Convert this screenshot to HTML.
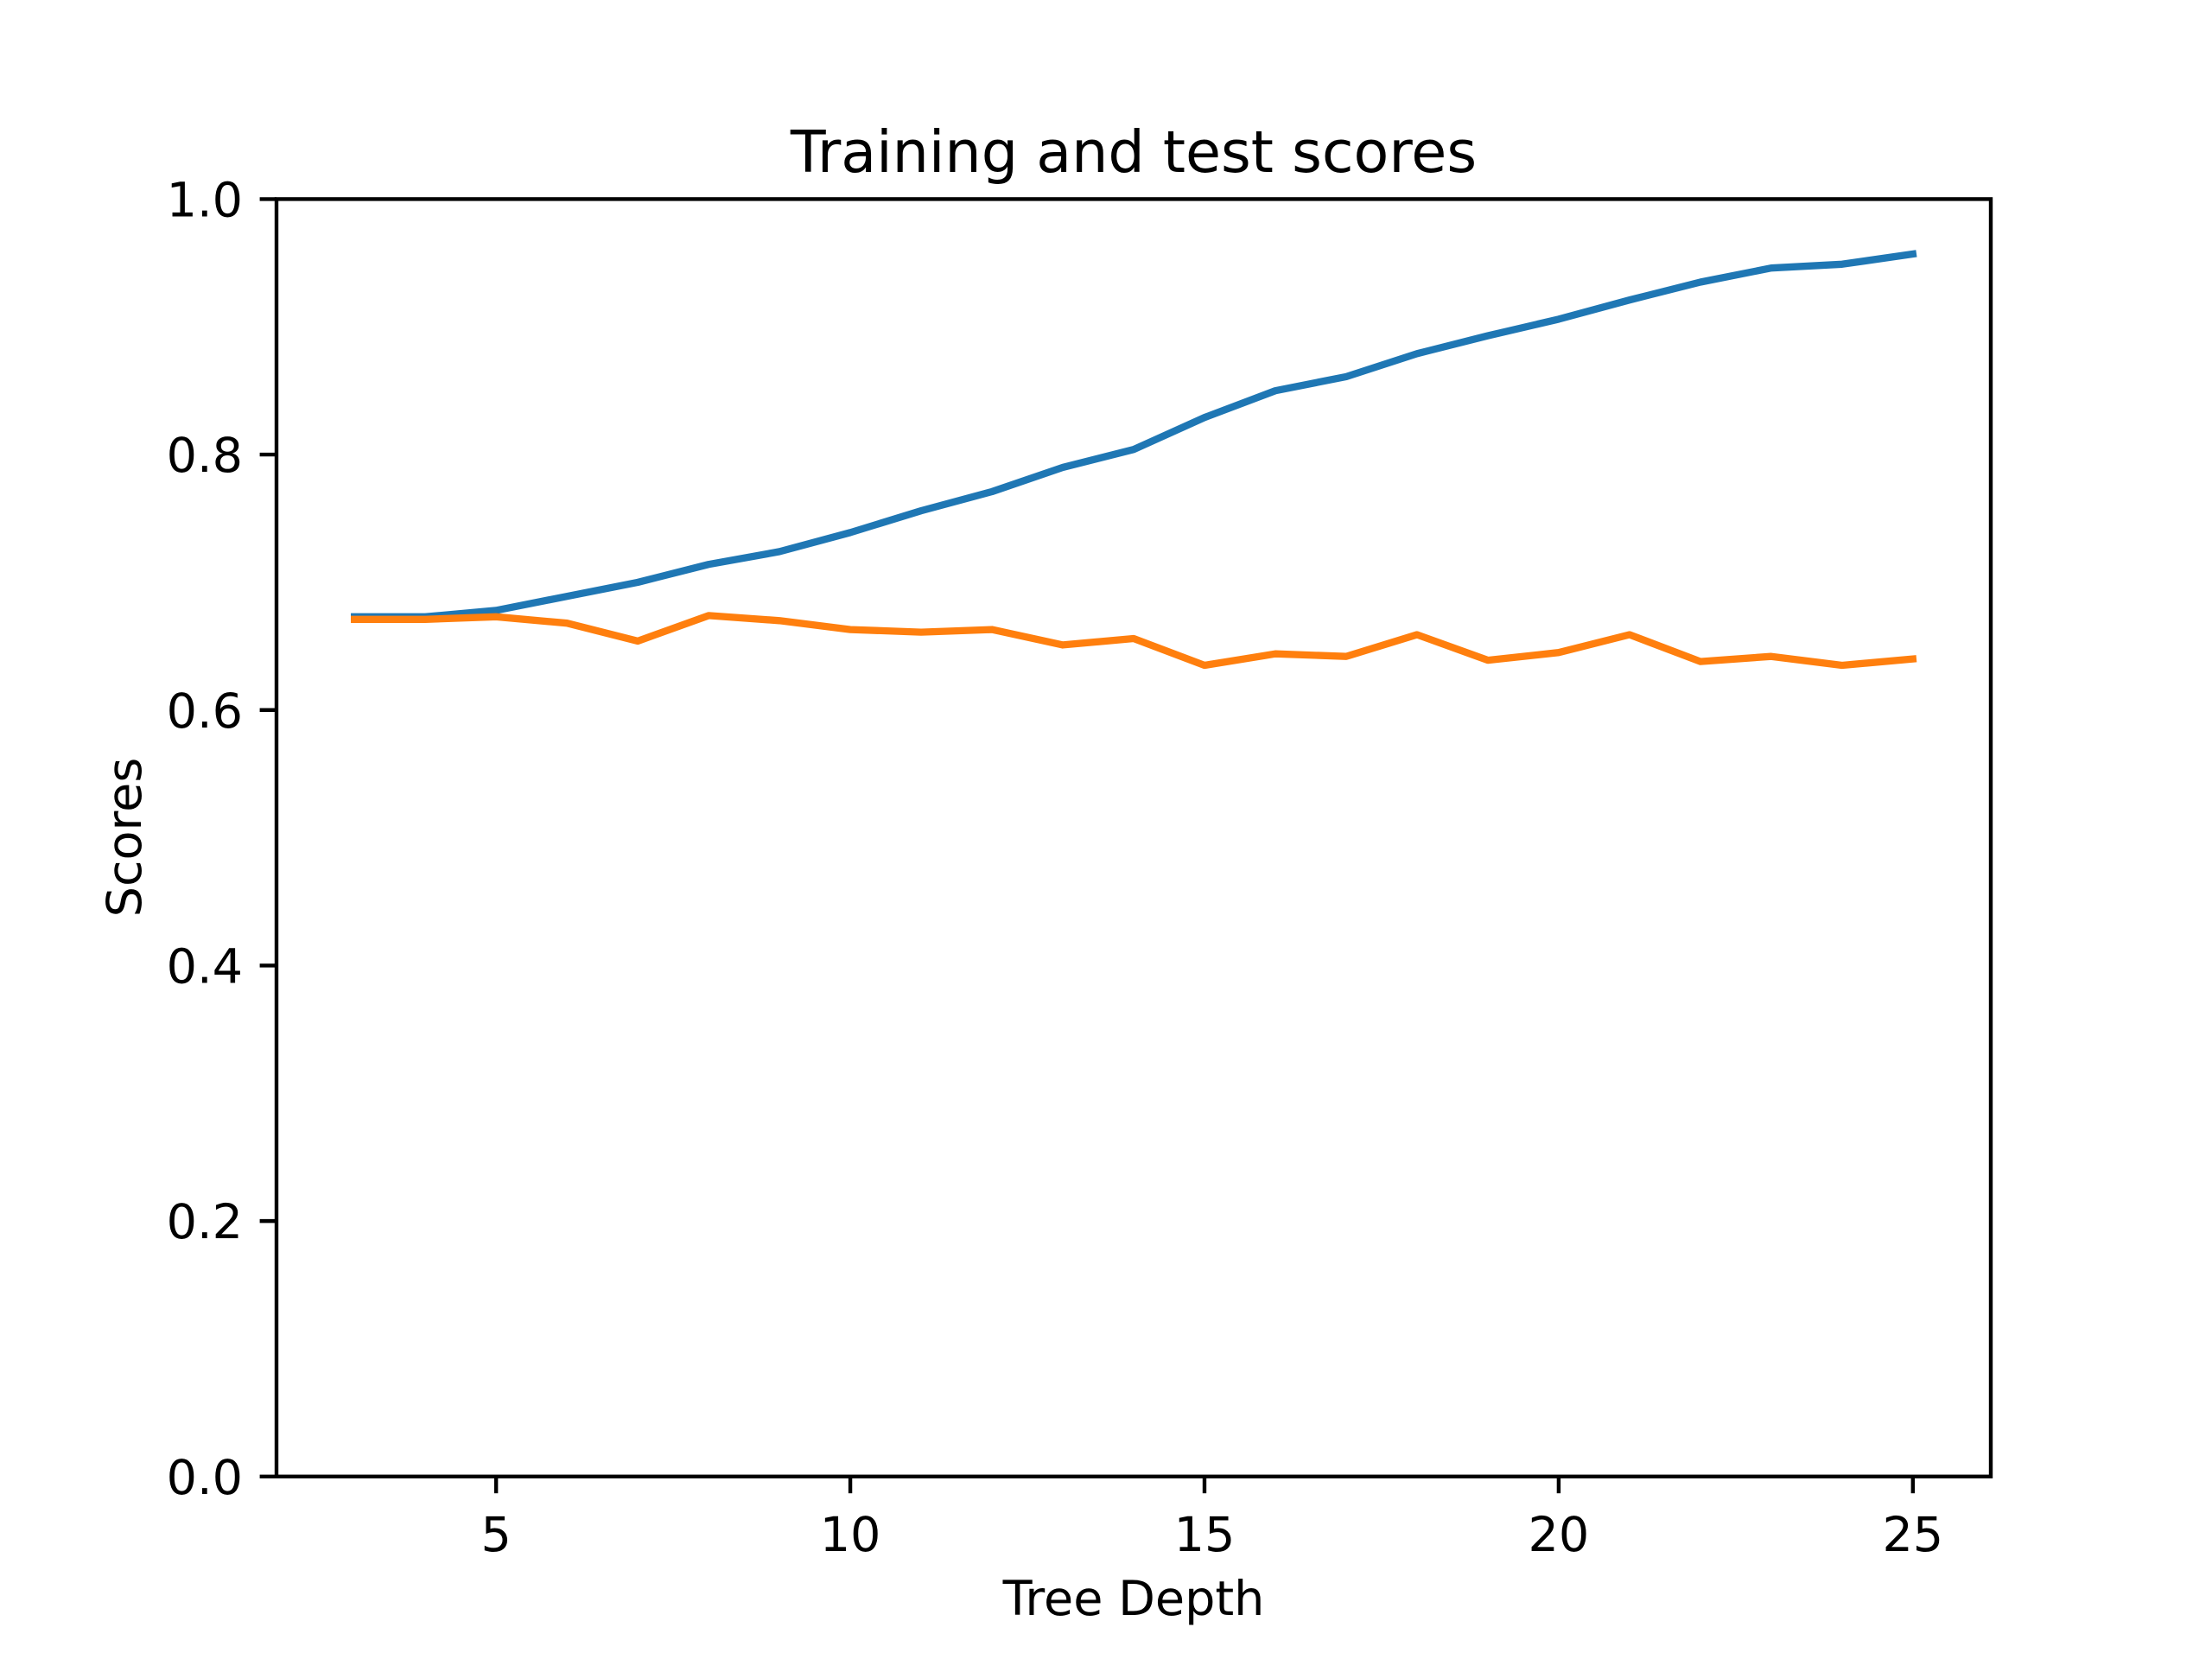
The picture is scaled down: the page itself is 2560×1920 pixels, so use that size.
<!DOCTYPE html>
<html><head><meta charset="utf-8"><style>
html,body{margin:0;padding:0;background:#fff;}
svg{display:block;font-family:"DejaVu Sans","Liberation Sans",sans-serif;}
</style></head><body>
<svg id="chart" width="2560" height="1920" viewBox="0 0 2560 1920" xmlns="http://www.w3.org/2000/svg">
<rect width="2560" height="1920" fill="#fff"/>
<text x="1312" y="199" font-size="66.7" text-anchor="middle">Training and test scores</text>
<g id="series"></g>
<rect x="320" y="230.4" width="1984" height="1478.4" fill="none" stroke="#000" stroke-width="4.4"/>
<g id="xticks"></g>
<g id="yticks"></g>
<text x="1312" y="1869" font-size="55.6" text-anchor="middle">Tree Depth</text>
<text transform="translate(163,969) rotate(-90)" font-size="55.6" text-anchor="middle">Scores</text>
</svg>
<script>
const depths = [3,4,5,6,7,8,9,10,11,12,13,14,15,16,17,18,19,20,21,22,23,24,25];
const trainScores = [0.673,0.673,0.678,0.689,0.700,0.714,0.724,0.739,0.756,0.771,0.790,0.804,0.829,0.850,0.861,0.879,0.893,0.906,0.921,0.935,0.946,0.949,0.957];
const testScores = [0.671,0.671,0.673,0.668,0.654,0.674,0.670,0.663,0.661,0.663,0.651,0.656,0.635,0.644,0.642,0.659,0.639,0.645,0.659,0.638,0.642,0.635,0.640];
const xTickValues = [5,10,15,20,25];
const yTickValues = [0.0,0.2,0.4,0.6,0.8,1.0];
const yTickLabels = ["0.0","0.2","0.4","0.6","0.8","1.0"];

const NS = "http://www.w3.org/2000/svg";
const L=320,R=2304,T=230.4,B=1708.8;
const xmin=1.9,xmax=26.1,ymin=0,ymax=1;
function xs(v){return L+(v-xmin)/(xmax-xmin)*(R-L);}
function ys(v){return B-(v-ymin)/(ymax-ymin)*(B-T);}
function mk(tag,attrs,parent){const e=document.createElementNS(NS,tag);for(const k in attrs)e.setAttribute(k,attrs[k]);parent.appendChild(e);return e;}

const series=document.getElementById('series');
function drawLine(vals,color,name){
  const pts=depths.map((d,i)=>xs(d).toFixed(1)+','+ys(vals[i]).toFixed(1)).join(' ');
  const p=mk('polyline',{points:pts,fill:'none',stroke:color,'stroke-width':8.33,'stroke-linejoin':'round','stroke-linecap':'square'},series);
  
  
}
drawLine(trainScores,'#1f77b4','train-score-line');
drawLine(testScores,'#ff7f0e','test-score-line');

const xt=document.getElementById('xticks');
xTickValues.forEach(v=>{
  const x=xs(v);
  const t=mk('line',{x1:x,x2:x,y1:B,y2:B+19.4,stroke:'#000','stroke-width':4.4},xt);
  
  
  const l=mk('text',{x:x,y:B+86,'font-size':55.6,'text-anchor':'middle'},xt);
  l.textContent=String(v);
  
  
});
const yt=document.getElementById('yticks');
yTickValues.forEach((v,i)=>{
  const y=ys(v);
  const t=mk('line',{x1:L-19.4,x2:L,y1:y,y2:y,stroke:'#000','stroke-width':4.4},yt);
  
  
  const l=mk('text',{x:L-39,y:y+20,'font-size':55.6,'text-anchor':'end'},yt);
  l.textContent=yTickLabels[i];
  
  
});
</script>
</body></html>
